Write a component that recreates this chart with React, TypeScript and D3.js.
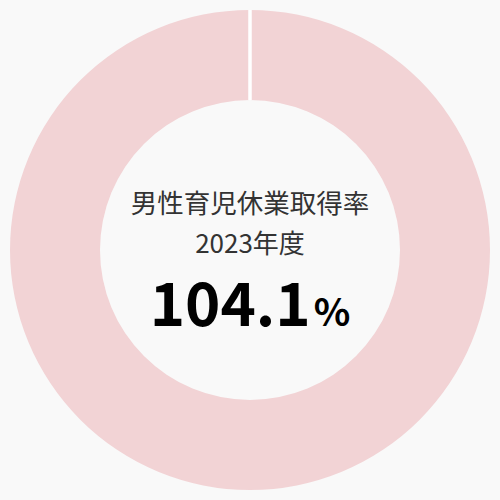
import * as d3 from 'd3';

const labels = ['男性育児休業取得率', '2023年度'];
const rate = 104.1;
// the ring is capped at 100%; the empty slice leaves the seam at the top
const sliceValues = [Math.min(rate, 100), Math.max(0, 100 - rate)];

const width = 500;
const height = 500;
const outerR = 240;
const innerR = 150;

export default function App() {
  const pie = d3.pie<number>().sort(null)(sliceValues);
  const arc = d3.arc<d3.PieArcDatum<number>>().innerRadius(innerR).outerRadius(outerR);

  return (
    <svg
      width={width}
      height={height}
      style={{ position: 'absolute', left: 0, top: 0, background: '#f9f9f9' }}
      fontFamily="'Noto Sans CJK JP', 'Noto Sans', sans-serif"
    >
      <g transform={`translate(${width / 2},${height / 2})`}>
        {pie.map((p, i) => (
          <path
            key={i}
            d={arc(p) ?? ''}
            fill='#f2d3d5'
            stroke={p.value === 0 ? '#ffffff' : 'none'}
            strokeWidth={3.5}
          />
        ))}

        <text y={-37} textAnchor='middle' fontSize={26.5} fill='#333333'>
          {labels[0]}
        </text>
        <text y={3} textAnchor='middle' fontSize={26} fill='#333333'>
          {labels[1]}
        </text>
        <text y={76} textAnchor='middle' fill='#000000' fontWeight={700}>
          <tspan fontSize={60}>{rate.toFixed(1)}</tspan>
          <tspan fontSize={38} dx={3}>%</tspan>
        </text>
      </g>
    </svg>
  );
}
